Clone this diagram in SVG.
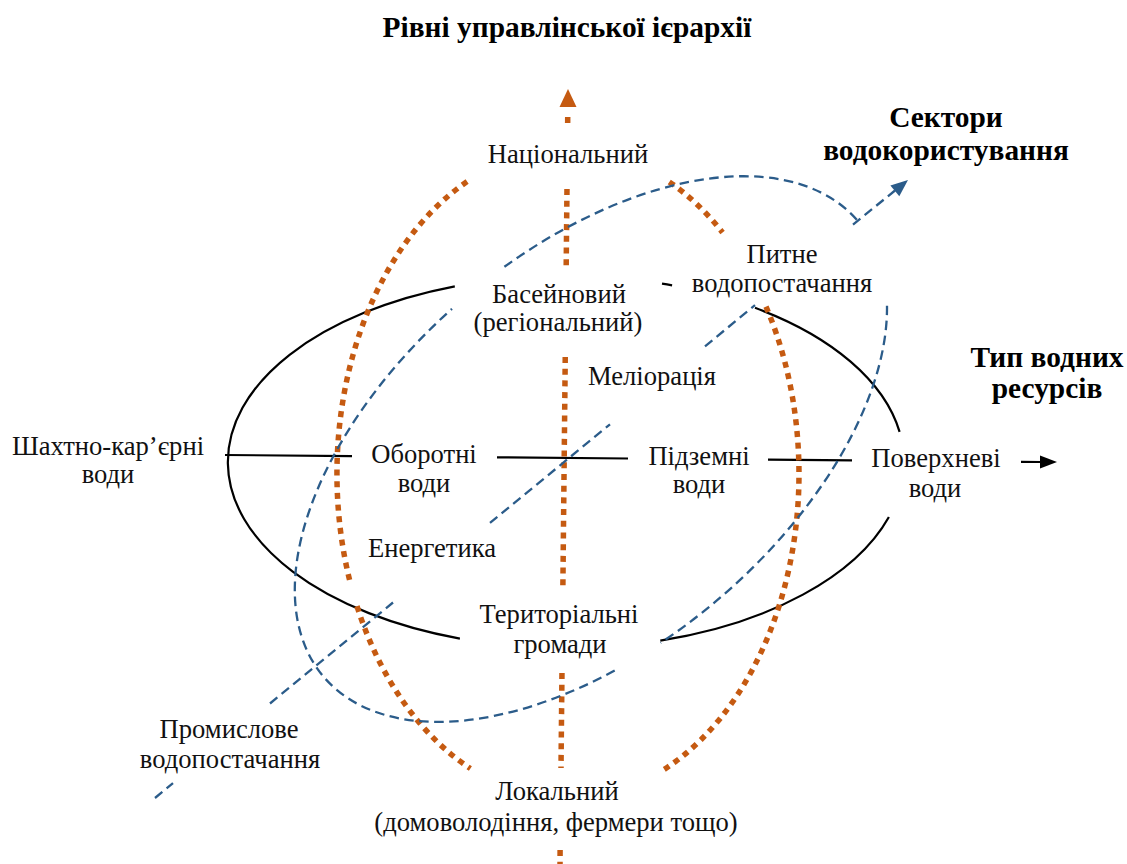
<svg xmlns="http://www.w3.org/2000/svg" width="1127" height="864" viewBox="0 0 1127 864">
<style>
  .lbl { font-family: "Liberation Serif", "Times New Roman", serif; font-size: 26.6px; fill: #111; text-anchor: middle; }
  .ttl { font-family: "Liberation Serif", "Times New Roman", serif; font-size: 29.4px; font-weight: bold; fill: #000; text-anchor: middle; }
  .blk { fill: none; stroke: #000; stroke-width: 2.2; }
  .org { fill: none; stroke: #C55A11; stroke-width: 5.5; stroke-dasharray: 6 5.7; }
  .blu { fill: none; stroke: #2B5C8A; stroke-width: 2.3; stroke-dasharray: 9.5 5.5; }
  .ah-blk { fill: #000; }
  .ah-org { fill: #C55A11; }
  .ah-blu { fill: #2B5C8A; }
</style>
<rect width="1127" height="864" fill="#fff"/>
<g id="connectors">
  <!-- black ellipse (type of water resources) -->
  <path class="blk" d="M454.8,286.3 A338 186 0 0 0 459.9,638.6"/>
  <path class="blk" d="M662.0,283.7 A338 186 0 0 1 672.1,285.4"/>
  <path class="blk" d="M755.0,307.8 A338 186 0 0 1 899.6,431.9"/>
  <path class="blk" d="M888.9,517.0 A338 186 0 0 1 660.3,640.6"/>
  <!-- black horizontal axis -->
  <path class="blk" d="M225,455 L352,456.1"/>
  <path class="blk" d="M497,457.3 L628,458.5"/>
  <path class="blk" d="M768,459.7 L852,460.4"/>
  <path class="blk" d="M1021,461.8 L1041,462"/>
  <polygon class="ah-blk" points="1057,462.1 1040,455.5 1040,468.5"/>

  <!-- orange ellipse (management levels) -->
  <path class="org" d="M467.1,181.6 A231 325 0 0 0 350.9,585.2"/>
  <path class="org" d="M357,606.2 A231 325 0 0 0 470.4,768.5"/>
  <path class="org" d="M669.3,181.9 A231 325 0 0 1 722.6,232.5"/>
  <path class="org" d="M766.0,306.6 A231 325 0 0 1 661.9,770.9"/>
  <!-- orange vertical axis -->
  <path class="org" d="M567.66,123 L567.72,117"/>
  <polygon class="ah-org" points="568,89 559.5,107 576.5,107"/>
  <path class="org" d="M566.98,189 L566.17,268"/>
  <path class="org" d="M565.24,357 L562.83,591"/>
  <path class="org" d="M561.97,673 L561.0,768"/>
  <path class="org" d="M560.1,850 L560.0,870"/>

  <!-- blue tilted ellipse (water use sectors) -->
  <path class="blu" d="M504.4,266.8 A351 197 -40.5 0 1 860.1,223.7"/>
  <path class="blu" d="M887.0,305.8 A351 197 -40.5 0 1 660.6,642.9"/>
  <path class="blu" d="M614.7,670.6 A351 197 -40.5 0 1 452.0,308.8"/>
  <!-- blue diagonal axis -->
  <path class="blu" d="M155,798 L173,783.2"/>
  <path class="blu" d="M270,703.5 L393,602.5"/>
  <path class="blu" d="M490,522.9 L610,424.3"/>
  <path class="blu" d="M705,346.3 L755,305.2"/>
  <path class="blu" d="M853,224.7 L895,190.5"/>
  <polygon class="ah-blu" points="908,180 899.3,196.2 890.4,185.4"/>
</g>

<g id="title-levels"><text class="ttl" x="567" y="37">Рівні управлінської ієрархії</text></g>
<g id="title-sectors"><text class="ttl" x="946" y="127">Сектори</text><text class="ttl" x="946" y="160">водокористування</text></g>
<g id="title-types"><text class="ttl" x="1047" y="367">Тип водних</text><text class="ttl" x="1047" y="398">ресурсів</text></g>

<g id="node-national"><text class="lbl" x="568" y="163">Національний</text></g>
<g id="node-basin"><text class="lbl" x="559" y="303">Басейновий</text><text class="lbl" x="558" y="331">(регіональний)</text></g>
<g id="node-drinking"><text class="lbl" x="782" y="263">Питне</text><text class="lbl" x="782" y="292">водопостачання</text></g>
<g id="node-melioration"><text class="lbl" x="652" y="385">Меліорація</text></g>
<g id="node-mine"><text class="lbl" x="108" y="455">Шахтно-кар’єрні</text><text class="lbl" x="108" y="483">води</text></g>
<g id="node-recycled"><text class="lbl" x="424" y="463">Оборотні</text><text class="lbl" x="424" y="492">води</text></g>
<g id="node-energy"><text class="lbl" x="432" y="557">Енергетика</text></g>
<g id="node-ground"><text class="lbl" x="699" y="465">Підземні</text><text class="lbl" x="699" y="493">води</text></g>
<g id="node-surface"><text class="lbl" x="936" y="467">Поверхневі</text><text class="lbl" x="935" y="497">води</text></g>
<g id="node-communities"><text class="lbl" x="559" y="623">Територіальні</text><text class="lbl" x="560" y="653">громади</text></g>
<g id="node-industrial"><text class="lbl" x="229" y="738">Промислове</text><text class="lbl" x="230" y="768">водопостачання</text></g>
<g id="node-local"><text class="lbl" x="557" y="800">Локальний</text><text class="lbl" x="556" y="831">(домоволодіння, фермери тощо)</text></g>
</svg>
